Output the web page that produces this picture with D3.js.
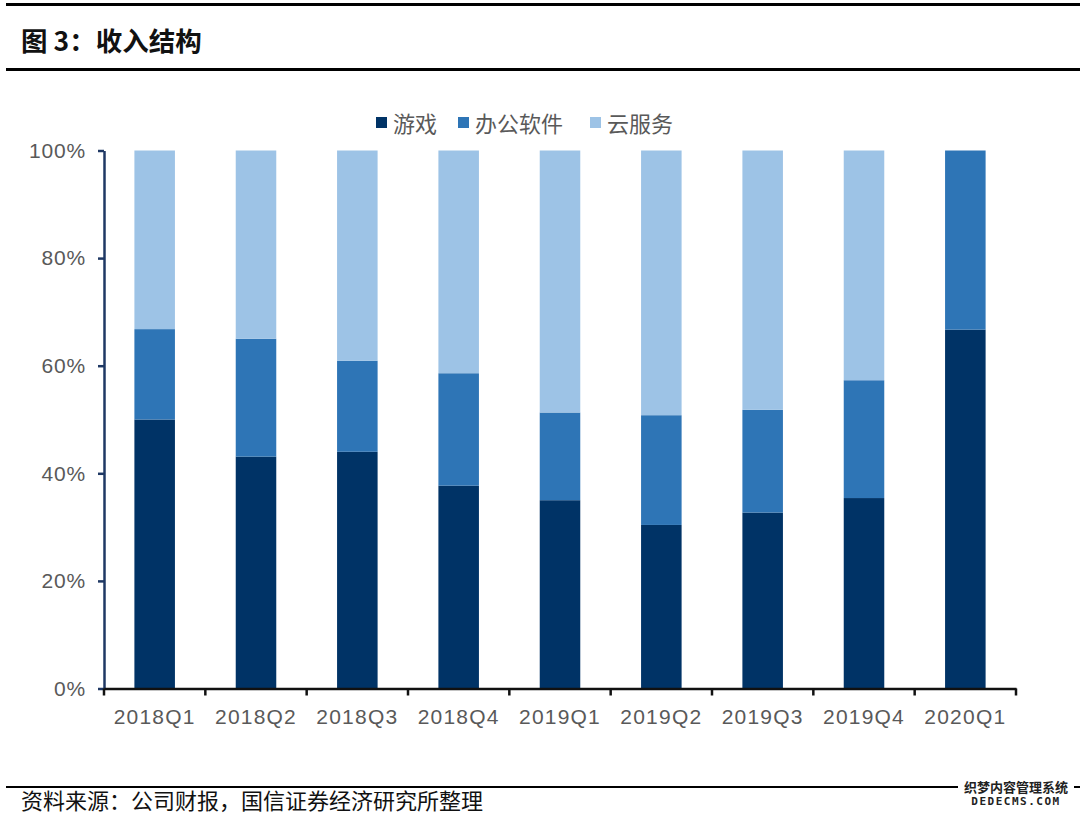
<!DOCTYPE html>
<html><head><meta charset="utf-8">
<script src="https://cdn.jsdelivr.net/npm/d3@7"></script>
<style>
html,body{margin:0;padding:0;background:#fff;}
svg{display:block;font-family:"Liberation Sans",Arial,"Noto Sans CJK SC",sans-serif;}
</style></head>
<body><svg id="c" width="1080" height="816"></svg>
<script>
const categories = ["2018Q1","2018Q2","2018Q3","2018Q4","2019Q1","2019Q2","2019Q3","2019Q4","2020Q1"];
const seriesNames = ["游戏","办公软件","云服务"];
const games = [50.0, 43.1, 44.0, 37.7, 35.0, 30.4, 32.7, 35.4, 66.7];
const office = [16.8, 21.9, 16.9, 20.9, 16.3, 20.4, 19.1, 21.9, 33.3];
const cloud = [33.2, 35.0, 39.1, 41.4, 48.7, 49.2, 48.2, 42.7, 0.0];
const colors = ["#003366", "#2e75b6", "#9dc3e6"];
const yTicks = [0, 20, 40, 60, 80, 100];

(function(){
const svg = d3.select("#c");
const grayText = "#595959";
const cjk = '"Noto Sans CJK SC", sans-serif';

// Title and frame lines
svg.append("rect").attr("x",6).attr("y",3).attr("width",1074).attr("height",3).attr("fill","#000");
svg.append("text").attr("x",21).attr("y",51).attr("font-family",cjk).attr("font-weight","bold")
  .attr("font-size",26.5).attr("fill","#111").text("图 3：收入结构");
svg.append("rect").attr("x",6).attr("y",68).attr("width",1074).attr("height",3).attr("fill","#000");
svg.append("rect").attr("x",6).attr("y",786).attr("width",1074).attr("height",2).attr("fill","#000");
svg.append("text").attr("x",21).attr("y",809).attr("font-family",cjk)
  .attr("font-size",22).attr("fill","#111").text("资料来源：公司财报，国信证券经济研究所整理");

// watermark
svg.append("rect").attr("x",958).attr("y",779).attr("width",116).attr("height",28).attr("fill","#fff");
svg.append("text").attr("x",1016).attr("y",792).attr("text-anchor","middle").attr("font-family",cjk)
  .attr("font-size",13).attr("font-weight","bold").attr("fill","#222").text("织梦内容管理系统");
svg.append("text").attr("x",1016).attr("y",805).attr("text-anchor","middle").attr("font-family","DejaVu Sans Mono, monospace")
  .attr("font-size",11).attr("font-weight","bold").attr("letter-spacing",1.5).attr("fill","#222").text("DEDECMS.COM");

// Scales
const pLeft = 104, pRight = 1016, pTop = 150.5, pBottom = 688.5;
const x = d3.scaleBand().domain(categories).range([pLeft, pRight]).paddingInner(0.6).paddingOuter(0.3);
const xb = d3.scaleBand().domain(categories).range([pLeft, pRight]);
const y = d3.scaleLinear().domain([0,100]).range([pBottom, pTop]);

const rows = categories.map((c,i)=>({cat:c, "游戏":games[i], "办公软件":office[i], "云服务":cloud[i]}));
const stacked = d3.stack().keys(seriesNames)(rows);

svg.append("g").selectAll("g").data(stacked).join("g")
  .attr("fill",(d,i)=>colors[i])
  .selectAll("rect").data(d=>d).join("rect")
  .attr("x",d=>x(d.data.cat))
  .attr("width",x.bandwidth())
  .attr("y",d=>y(d[1]))
  .attr("height",d=>Math.max(0,y(d[0])-y(d[1])));

// Y axis
const yAxis = d3.axisLeft(y).tickValues(yTicks).tickFormat(d=>d+"%").tickSize(6).tickSizeOuter(0);
const gy = svg.append("g").attr("transform",`translate(${pLeft},0)`).call(yAxis);
gy.select(".domain").attr("stroke","#1f3864").attr("stroke-width",2.5);
gy.selectAll(".tick line").attr("stroke","#1f3864").attr("stroke-width",2.5);
gy.selectAll(".tick text").attr("x",-18).attr("fill",grayText).attr("font-size",21)
  .attr("letter-spacing",0.8).attr("font-family","Liberation Sans, Arial, sans-serif");

// X axis
const xAxis = d3.axisBottom(xb).tickSize(0).tickSizeOuter(0);
const gx = svg.append("g").attr("transform",`translate(0,${pBottom})`).call(xAxis);
gx.select(".domain").attr("stroke","#111").attr("stroke-width",2.5);
gx.selectAll(".tick text").attr("dy",0).attr("y",35).attr("fill",grayText).attr("font-size",21)
  .attr("letter-spacing",1.2).attr("font-family","Liberation Sans, Arial, sans-serif");
// boundary ticks
const bounds = categories.map(c=>xb(c)).concat([pRight]);
svg.append("g").selectAll("line").data(bounds).join("line")
  .attr("x1",d=>d).attr("x2",d=>d).attr("y1",pBottom).attr("y2",pBottom+7)
  .attr("stroke","#111").attr("stroke-width",2.5);

// Legend
const legendX = [376, 458, 590];
const lg = svg.append("g").selectAll("g").data(seriesNames).join("g")
  .attr("transform",(d,i)=>`translate(${legendX[i]},124)`);
lg.append("rect").attr("x",0).attr("y",-7).attr("width",11).attr("height",11).attr("fill",(d,i)=>colors[i]);
lg.append("text").attr("x",17).attr("y",8).attr("font-family",cjk).attr("font-size",22)
  .attr("fill",grayText).text(d=>d);
})();
</script></body></html>
